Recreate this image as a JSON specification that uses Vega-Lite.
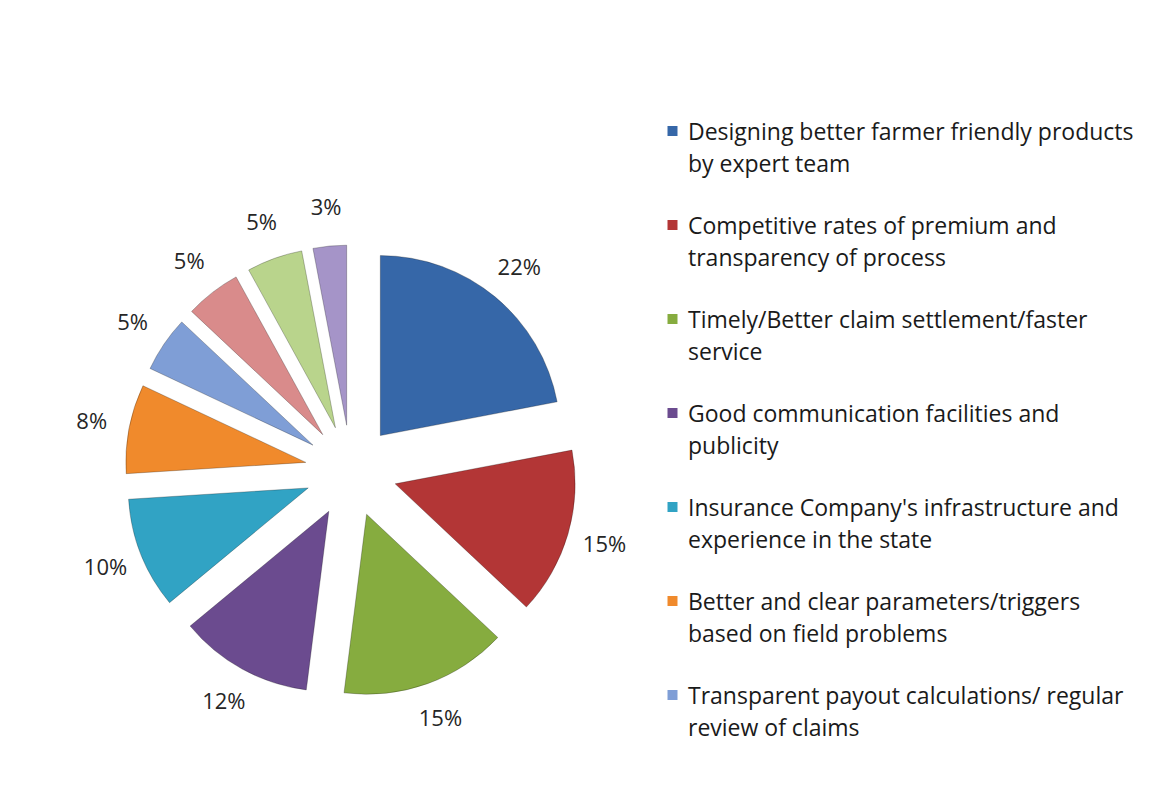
{
  "$schema": "https://vega.github.io/schema/vega-lite/v6.json",
  "width": 600,
  "height": 620,
  "autosize": {"type": "none"},
  "padding": {"left": 51, "top": 161, "right": 510, "bottom": 29},
  "background": "white",
  "view": {"stroke": null},
  "config": {
    "style": {"guide-label": {"lineHeight": 32}}
  },
  "data": {
    "values": [
      {"id": 1, "factor": "Designing better farmer friendly products by expert team", "share": 0.22},
      {"id": 2, "factor": "Competitive rates of premium and transparency of process", "share": 0.15},
      {"id": 3, "factor": "Timely/Better claim settlement/faster service", "share": 0.15},
      {"id": 4, "factor": "Good communication facilities and publicity", "share": 0.12},
      {"id": 5, "factor": "Insurance Company's infrastructure and experience in the state", "share": 0.10},
      {"id": 6, "factor": "Better and clear parameters/triggers based on field problems", "share": 0.08},
      {"id": 7, "factor": "Transparent payout calculations/ regular review of claims", "share": 0.05},
      {"id": 8, "factor": "Other factor 8", "share": 0.05},
      {"id": 9, "factor": "Other factor 9", "share": 0.05},
      {"id": 10, "factor": "Other factor 10", "share": 0.03}
    ]
  },
  "layer": [
    {
      "mark": {
        "type": "arc",
        "outerRadius": 180,
        "stroke": "rgba(0,0,0,0.25)",
        "strokeWidth": 1,
        "xOffset": {"expr": "46*sin((scale('theta', datum.share_start) + scale('theta', datum.share_end))/2)"},
        "yOffset": {"expr": "-46*cos((scale('theta', datum.share_start) + scale('theta', datum.share_end))/2)"}
      },
      "encoding": {
        "theta": {"field": "share", "type": "quantitative", "stack": true},
        "order": {"field": "id", "type": "quantitative"},
        "color": {
          "field": "factor",
          "type": "nominal",
          "sort": null,
          "scale": {
            "domain": [
              "Designing better farmer friendly products by expert team",
              "Competitive rates of premium and transparency of process",
              "Timely/Better claim settlement/faster service",
              "Good communication facilities and publicity",
              "Insurance Company's infrastructure and experience in the state",
              "Better and clear parameters/triggers based on field problems",
              "Transparent payout calculations/ regular review of claims",
              "Other factor 8",
              "Other factor 9",
              "Other factor 10"
            ],
            "range": ["#3667a8", "#b33636", "#86ac3f", "#6b4b8f", "#31a3c4", "#f08a2c", "#7f9ed6", "#d98b8b", "#b9d48c", "#a594c8"]
          },
          "legend": {
            "orient": "none",
            "legendX": 610,
            "legendY": -51,
            "title": null,
            "padding": 0,
            "values": [
              "Designing better farmer friendly products by expert team",
              "Competitive rates of premium and transparency of process",
              "Timely/Better claim settlement/faster service",
              "Good communication facilities and publicity",
              "Insurance Company's infrastructure and experience in the state",
              "Better and clear parameters/triggers based on field problems",
              "Transparent payout calculations/ regular review of claims"
            ],
            "symbolType": "M-1,0.9H1V2.9H-1Z",
            "symbolSize": 100,
            "symbolStrokeWidth": 0,
            "labelFont": "Open Sans",
            "labelFontSize": 23,
            "labelColor": "#1a1a1a",
            "labelBaseline": "top",
            "labelLimit": 700,
            "labelOffset": 4,
            "rowPadding": 27,
            "labelExpr": "datum.label == 'Designing better farmer friendly products by expert team' ? ['Designing better farmer friendly products', 'by expert team'] : datum.label == 'Competitive rates of premium and transparency of process' ? ['Competitive rates of premium and', 'transparency of process'] : datum.label == 'Timely/Better claim settlement/faster service' ? ['Timely/Better claim settlement/faster', 'service'] : datum.label == 'Good communication facilities and publicity' ? ['Good communication facilities and', 'publicity'] : datum.label == \"Insurance Company's infrastructure and experience in the state\" ? [\"Insurance Company's infrastructure and\", 'experience in the state'] : datum.label == 'Better and clear parameters/triggers based on field problems' ? ['Better and clear parameters/triggers', 'based on field problems'] : datum.label == 'Transparent payout calculations/ regular review of claims' ? ['Transparent payout calculations/ regular', 'review of claims'] : datum.label"
          }
        }
      }
    },
    {
      "mark": {
        "type": "text",
        "radius": 218,
        "font": "Open Sans",
        "fontSize": 22,
        "fill": "#262626",
        "xOffset": {"expr": "46*sin((scale('theta', datum.share_start) + scale('theta', datum.share_end))/2)"},
        "yOffset": {"expr": "-46*cos((scale('theta', datum.share_start) + scale('theta', datum.share_end))/2)"}
      },
      "encoding": {
        "theta": {"field": "share", "type": "quantitative", "stack": true},
        "order": {"field": "id", "type": "quantitative"},
        "text": {"field": "share", "type": "quantitative", "format": ".0%"}
      }
    }
  ]
}
